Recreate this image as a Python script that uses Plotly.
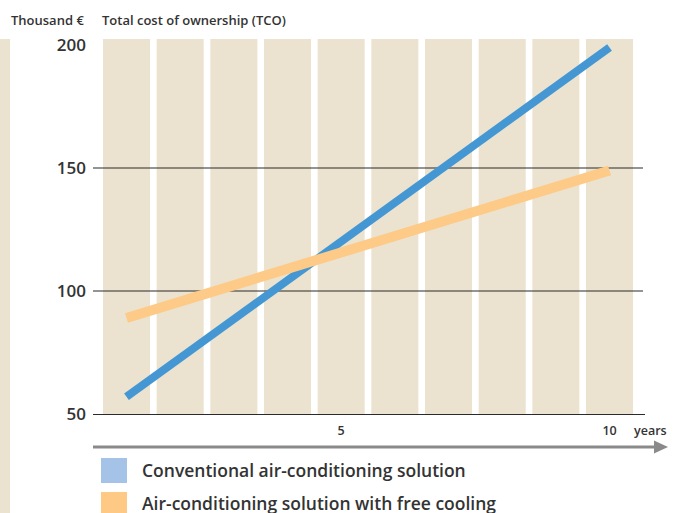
import plotly.graph_objects as go

# ---- data ----
years = [1, 10]
conventional = [57, 199]
free_cooling = [89, 149]
columns = [1, 2, 3, 4, 5, 6, 7, 8, 9, 10]
y_ticks = [50, 100, 150, 200]
x_ticks = [5, 10]
grid_values = [100, 150]
series_names = ["Conventional air-conditioning solution",
                "Air-conditioning solution with free cooling"]
y_unit = "Thousand €"
title = "Total cost of ownership (TCO)"
x_unit = "years"

BEIGE = "#EBE3CF"
BLUE = "#4497D3"
ORANGE = "#FDCA88"
LEG_BLUE = "#A4C3E6"
LEG_ORANGE = "#FDC985"
TEXT = "#333333"
LINE = "#2a2a2a"
FONT = "Open Sans"

W, H = 676, 513
L, R, T, B = 93, 31, 39, 99
PW, PH = W - L - R, H - T - B

def px(x):
    return (x - L) / PW

def py(y):
    return (H - B - y) / PH

fig = go.Figure()
fig.add_trace(go.Scatter(x=years, y=conventional, mode="lines",
                         line=dict(color=BLUE, width=8), name=series_names[0],
                         showlegend=False, hoverinfo="skip"))
fig.add_trace(go.Scatter(x=years, y=free_cooling, mode="lines",
                         line=dict(color=ORANGE, width=10), name=series_names[1],
                         showlegend=False, hoverinfo="skip"))

shapes = []
# left strip
shapes.append(dict(type="rect", xref="paper", yref="paper", x0=px(0), x1=px(10),
                   y0=py(513), y1=py(39), fillcolor=BEIGE, line_width=0, layer="below"))
# columns
for c in columns:
    shapes.append(dict(type="rect", xref="x", yref="paper", x0=c - 0.438, x1=c + 0.438,
                       y0=0, y1=1, fillcolor=BEIGE, line_width=0, layer="below"))
# grid lines
for g in grid_values:
    shapes.append(dict(type="line", xref="paper", yref="y", x0=0, x1=px(643), y0=g, y1=g,
                       line=dict(color=LINE, width=1.2), layer="below"))
# arrow
shapes.append(dict(type="line", xref="paper", yref="paper", x0=0, x1=px(656),
                   y0=py(447), y1=py(447), line=dict(color="#8a8a8a", width=3)))
shapes.append(dict(type="path", xref="paper", yref="paper",
                   path=f"M {px(654)} {py(440.5)} L {px(668)} {py(447)} L {px(654)} {py(453.5)} Z",
                   fillcolor="#8a8a8a", line_width=0))
# legend squares
shapes.append(dict(type="rect", xref="paper", yref="paper", x0=px(101), x1=px(127),
                   y0=py(483), y1=py(458), fillcolor=LEG_BLUE, line_width=0))
shapes.append(dict(type="rect", xref="paper", yref="paper", x0=px(101), x1=px(127),
                   y0=py(520), y1=py(492), fillcolor=LEG_ORANGE, line_width=0))

annotations = [
    dict(text=y_unit, xref="paper", yref="paper", x=px(9), y=py(20), xanchor="left",
         yanchor="middle", showarrow=False, font=dict(size=13, color=TEXT, family=FONT, weight=600)),
    dict(text=title, xref="paper", yref="paper", x=px(100), y=py(20), xanchor="left",
         yanchor="middle", showarrow=False, font=dict(size=13, color=TEXT, family=FONT, weight=600)),
    dict(text=x_unit, xref="paper", yref="paper", x=px(632), y=py(430), xanchor="left",
         yanchor="middle", showarrow=False, font=dict(size=12.5, color=TEXT, family=FONT, weight=600)),
    dict(text=series_names[0], xref="paper", yref="paper", x=px(140), y=py(470), xanchor="left",
         yanchor="middle", showarrow=False, font=dict(size=17.5, color=TEXT, family=FONT, weight=600)),
    dict(text=series_names[1], xref="paper", yref="paper", x=px(140), y=py(502.5), xanchor="left",
         yanchor="middle", showarrow=False, font=dict(size=17.5, color=TEXT, family=FONT, weight=600)),
]

x0 = 1 + (L - 126.5) / 53.67
x1 = 1 + (W - R - 126.5) / 53.67
fig.update_layout(
    width=W, height=H, margin=dict(l=L, r=R, t=T, b=B, pad=0),
    paper_bgcolor="white", plot_bgcolor="rgba(0,0,0,0)",
    shapes=shapes, annotations=annotations, showlegend=False,
    xaxis=dict(range=[x0, x1], tickvals=x_ticks, ticks="", showgrid=False, zeroline=False,
               showline=True, linecolor=LINE, linewidth=1.2, ticklabelstandoff=5,
               tickfont=dict(size=12.5, color=TEXT, family=FONT, weight=600)),
    yaxis=dict(range=[50, 50 + PH / 2.46], tickvals=y_ticks, ticks="", showgrid=False,
               zeroline=False, showline=False, ticklabelstandoff=6,
               tickfont=dict(size=17, color=TEXT, family=FONT, weight=600)),
)
fig.write_html("out.html", config={"displayModeBar": False},
               post_script="document.body.style.margin='0';document.body.style.overflow='hidden';")
